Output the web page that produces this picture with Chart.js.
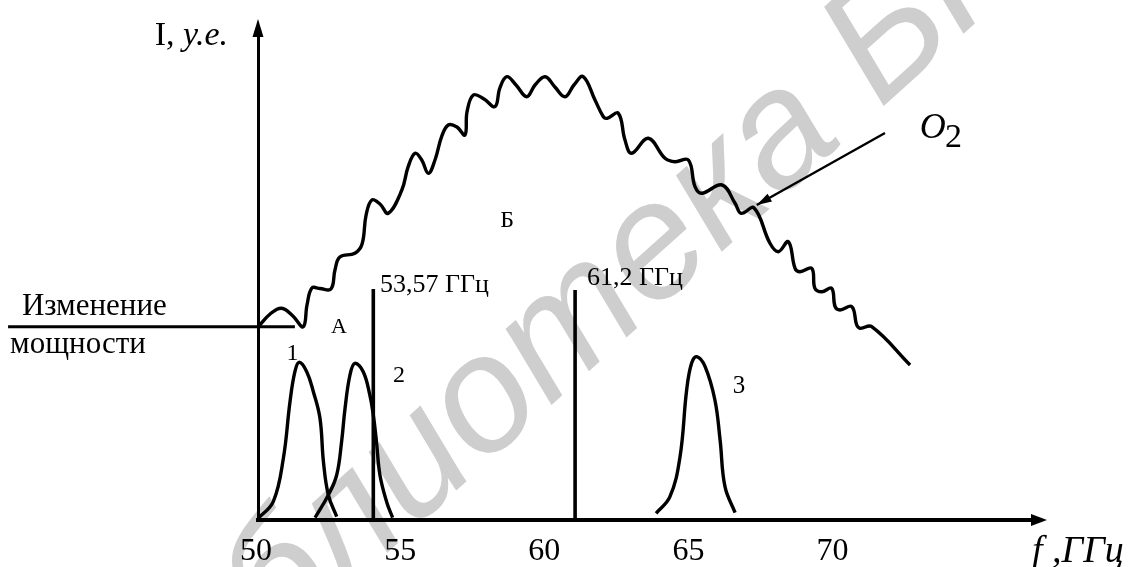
<!DOCTYPE html>
<html>
<head>
<meta charset="utf-8">
<script src="https://cdn.jsdelivr.net/npm/chart.js@4.4.1/dist/chart.umd.min.js"></script>
<style>
  html, body { margin: 0; padding: 0; background: #fff; }
</style>
</head>
<body>
<canvas id="c" width="1135" height="567"></canvas>
<script>
const SERIF = '"Liberation Serif", "Times New Roman", serif';

// O2 absorption band (x: GHz, y: у.е.)
const oxygenF = [50.01, 50.42, 50.82, 51.21, 51.57, 51.70, 51.87, 52.15, 52.53, 52.67, 52.84, 53.36, 53.61, 53.75, 53.95,
  54.23, 54.52, 54.99, 55.21, 55.45, 55.68, 55.91, 56.14, 56.37, 56.60, 56.90, 57.18, 57.25, 57.47, 57.84, 58.22, 58.39,
  58.63, 58.95, 59.32, 59.61, 59.96, 60.30, 60.65, 60.96, 61.28, 61.69, 61.98, 62.11, 62.50, 62.73, 62.96, 63.54, 64.12,
  64.47, 64.93, 65.16, 65.39, 66.10, 66.55, 66.76, 67.21, 67.76, 68.05, 68.40, 68.63, 68.80, 69.21, 69.32, 69.56, 69.90,
  70.02, 70.19, 70.60, 70.77, 70.89, 71.29, 72.62];
const oxygenI = [38.66, 41.2, 42.34, 40.8, 38.66, 43.0, 46.4, 46.3, 46.2, 50.0, 52.6, 53.34, 55.2, 61.0, 64.0,
  63.2, 61.34, 66.0, 70.66, 73.34, 72.0, 69.34, 72.0, 76.66, 79.0, 78.6, 77.0, 81.6, 85.0, 84.2, 82.66, 86.4,
  88.66, 87.0, 84.66, 87.0, 88.66, 86.6, 84.66, 87.0, 88.66, 84.0, 80.66, 80.34, 81.34, 76.0, 73.34, 76.34, 72.34,
  71.66, 72.0, 66.66, 65.34, 67.0, 63.34, 61.34, 62.4, 55.34, 53.66, 55.66, 50.34, 49.66, 50.34, 46.34, 45.66, 46.34,
  42.66, 42.0, 42.66, 39.0, 38.34, 38.66, 31.0];

// channel spectra 1, 2, 3
const peak1F = [50.01, 50.53, 50.88, 51.11, 51.28, 51.43, 51.69, 51.92, 52.15, 52.27, 52.44, 52.73];
const peak1I = [0.34, 3.66, 12.34, 23.66, 29.66, 31.54, 29.66, 25.66, 20.34, 11.66, 5.0, 0.66];
const peak2F = [51.98, 52.44, 52.73, 52.90, 53.02, 53.19, 53.36, 53.65, 53.88, 54.0, 54.11, 54.23, 54.46, 54.67];
const peak2I = [0.46, 5.0, 9.0, 15.66, 22.34, 29.0, 31.34, 29.66, 25.0, 21.0, 15.66, 9.0, 3.66, 0.46];
const peak3F = [63.81, 64.29, 64.64, 64.87, 65.04, 65.22, 65.51, 65.85, 66.03, 66.20, 66.55];
const peak3I = [1.34, 4.66, 12.66, 26.0, 31.34, 32.66, 30.66, 24.0, 16.0, 6.66, 1.46];

// vertical marker lines
const markerF = [54.0, 61.0];
const markerTop = [46.2, 46.0];
const markerLabels = ['53,57 ГГц', '61,2 ГГц'];

// "Изменение мощности" level and the O2 pointer
const powerF = [41.33, 51.28];
const powerI = 38.66;
const pointerF = [71.75, 67.30];
const pointerI = [77.4, 63.0];

const xTicks = [50, 55, 60, 65, 70];

const zip = (xs, ys) => xs.map((x, k) => ({ x, y: Array.isArray(ys) ? ys[k] : ys }));

const curve = (data, width) => ({
  data, showLine: true, borderColor: '#000', borderWidth: width,
  pointRadius: 0, tension: 0.4, fill: false, clip: false,
});
const straight = (data, width) => ({ ...curve(data, width), tension: 0 });

const datasets = [
  curve(zip(oxygenF, oxygenI), 3.4),
  curve(zip(peak1F, peak1I), 3.4),
  curve(zip(peak2F, peak2I), 3.4),
  curve(zip(peak3F, peak3I), 3.4),
  ...markerF.map((f, k) => straight([{ x: f, y: 0 }, { x: f, y: markerTop[k] }], 3.6)),
  straight(zip(powerF, powerI), 3),
  { ...straight(zip(pointerF, pointerI), 2.4), pointer: true },
];

// text placed in data units
const notes = [
  { parts: [['Изменение']], f: 41.81, i: 41.0, size: 31, align: 'left' },
  { parts: [['мощности']], f: 41.40, i: 33.4, size: 31, align: 'left' },
  { parts: [['А']], f: 52.81, i: 37.4, size: 22, align: 'center' },
  { parts: [['Б']], f: 58.64, i: 58.6, size: 24, align: 'center' },
  { parts: [['1']], f: 51.20, i: 32.0, size: 24, align: 'center' },
  { parts: [['2']], f: 54.89, i: 27.6, size: 24, align: 'center' },
  { parts: [['3']], f: 66.69, i: 25.4, size: 25, align: 'center' },
  { parts: [[markerLabels[0]]], f: 54.23, i: 45.6, size: 26, align: 'left' },
  { parts: [[markerLabels[1]]], f: 61.41, i: 47.0, size: 26, align: 'left' },
  { parts: [['I, '], ['у.е.', 1]], f: 48.96, i: 95, size: 34, align: 'right' },
  { parts: [['f ,ГГц', 1]], f: 76.85, i: -8.4, size: 38, align: 'left' },
  { parts: [['O', 1]], f: 72.96, i: 76.4, size: 36, align: 'left' },
  { parts: [['2']], f: 73.83, i: 74.6, size: 34, align: 'left' },
];

const overlay = {
  id: 'overlay',
  beforeDraw(chart) {
    // library watermark, behind everything
    const ctx = chart.ctx;
    const txt = 'Библиотека БГУИР';
    ctx.save();
    ctx.font = 'italic 165px "Liberation Sans", Arial, sans-serif';
    ctx.fillStyle = '#cecece';
    ctx.textBaseline = 'middle';
    const lead = ctx.measureText(txt.slice(0, 7)).width + ctx.measureText('е').width / 2;
    ctx.translate(655, 250);
    ctx.rotate(-42 * Math.PI / 180);
    ctx.fillText(txt, -lead, 0);
    ctx.restore();
  },
  afterDraw(chart) {
    const { ctx, chartArea: a, scales: { x, y } } = chart;
    ctx.save();
    ctx.fillStyle = '#000';

    // axis arrowheads
    ctx.beginPath();
    ctx.moveTo(a.right + 15, a.bottom);
    ctx.lineTo(a.right - 1, a.bottom - 6);
    ctx.lineTo(a.right - 1, a.bottom + 6);
    ctx.closePath();
    ctx.fill();
    ctx.beginPath();
    ctx.moveTo(a.left, a.top - 17);
    ctx.lineTo(a.left - 5.5, a.top + 1);
    ctx.lineTo(a.left + 5.5, a.top + 1);
    ctx.closePath();
    ctx.fill();

    // head of the O2 pointer
    chart.data.datasets.forEach((ds, idx) => {
      if (!ds.pointer) return;
      const pts = chart.getDatasetMeta(idx).data;
      const p0 = pts[pts.length - 2], p1 = pts[pts.length - 1];
      const t = Math.atan2(p1.y - p0.y, p1.x - p0.x);
      const L = 15, W = 4.5;
      ctx.beginPath();
      ctx.moveTo(p1.x, p1.y);
      ctx.lineTo(p1.x - L * Math.cos(t) + W * Math.sin(t), p1.y - L * Math.sin(t) - W * Math.cos(t));
      ctx.lineTo(p1.x - L * Math.cos(t) - W * Math.sin(t), p1.y - L * Math.sin(t) + W * Math.cos(t));
      ctx.closePath();
      ctx.fill();
    });

    // labels
    ctx.textBaseline = 'alphabetic';
    notes.forEach(n => {
      const fonts = n.parts.map(p => `${p[1] ? 'italic ' : ''}${n.size}px ${SERIF}`);
      const widths = n.parts.map((p, k) => { ctx.font = fonts[k]; return ctx.measureText(p[0]).width; });
      const total = widths.reduce((s, w) => s + w, 0);
      let px = x.getPixelForValue(n.f);
      if (n.align === 'center') px -= total / 2;
      if (n.align === 'right') px -= total;
      const py = y.getPixelForValue(n.i);
      ctx.textAlign = 'left';
      n.parts.forEach((p, k) => {
        ctx.font = fonts[k];
        ctx.fillText(p[0], px, py);
        px += widths[k];
      });
    });
    ctx.restore();
  },
};

new Chart(document.getElementById('c'), {
  type: 'scatter',
  data: { datasets },
  options: {
    responsive: false,
    animation: false,
    devicePixelRatio: 1,
    layout: { padding: { top: 36, right: 103, bottom: 0, left: 0 } },
    plugins: { legend: { display: false }, tooltip: { enabled: false } },
    scales: {
      x: {
        type: 'linear', min: 50, max: 76.85,
        grid: { display: false, drawTicks: false },
        border: { display: true, color: '#000', width: 4 },
        afterBuildTicks: s => { s.ticks = xTicks.map(v => ({ value: v })); },
        afterFit: s => { s.height = 47; },
        ticks: {
          color: '#000', padding: 12, maxRotation: 0, autoSkip: false, labelOffset: -2,
          font: { family: SERIF, size: 32 },
          callback: v => String(v),
        },
      },
      y: {
        type: 'linear', min: 0, max: 96.8,
        grid: { display: false, drawTicks: false },
        border: { display: true, color: '#000', width: 3 },
        afterFit: s => { s.width = 258; },
        ticks: { display: false },
      },
    },
  },
  plugins: [overlay],
});
</script>
</body>
</html>
